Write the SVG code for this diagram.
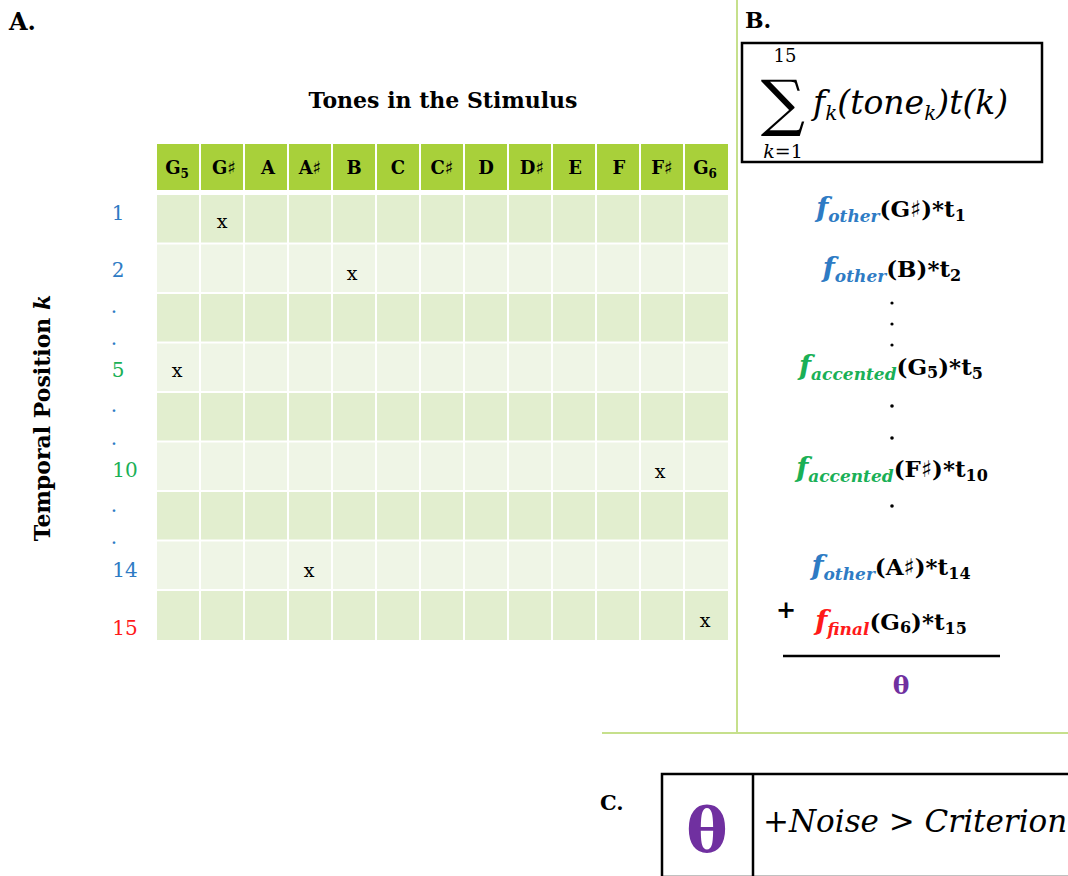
<svg xmlns="http://www.w3.org/2000/svg" width="1068" height="876" viewBox="0 0 1068 876">
<style>
.lbl{font-family:"DejaVu Serif","Liberation Serif",serif;font-weight:bold;fill:#000}
.hd{font-family:"DejaVu Serif","Liberation Serif",serif;font-weight:bold;font-size:18px;fill:#000;text-anchor:middle}
.num{font-family:"DejaVu Serif","Liberation Serif",serif;font-size:20px;text-anchor:middle}
.x{font-family:"DejaVu Serif","Liberation Serif",serif;font-size:19px;text-anchor:middle;fill:#000}
.math{font-family:"DejaVu Serif","Liberation Serif",serif;fill:#000}
.fb{font-family:"DejaVu Serif","Liberation Serif",serif;font-weight:bold;fill:#000}
.fi{font-style:italic}
.blue{fill:#2e7bc4}
.green{fill:#1ab056}
.red{fill:#ff1a1a}
.purple{fill:#7030a0}
.hdr{fill:#a8d03a}
.rd{fill:#e2eecf}
.rl{fill:#eff5e6}
.sep{stroke:#c6e08c;stroke-width:2;fill:none}
.box{fill:none;stroke:#000;stroke-width:2.5}
</style>

<!-- separators -->
<g id="separators">
<line class="sep" x1="737" y1="0" x2="737" y2="733"/>
<line class="sep" x1="602" y1="733" x2="1068" y2="733"/>
</g>

<!-- Panel A -->
<g id="panelA">
<text class="lbl" x="9" y="30" font-size="24">A.</text>
<text class="lbl" x="443" y="108" font-size="22" text-anchor="middle">Tones in the Stimulus</text>
<text class="lbl" font-size="22" text-anchor="middle" transform="translate(50,418) rotate(-90)">Temporal Position <tspan font-style="italic">k</tspan></text>

<g id="header">
<rect class="hdr" x="157" y="144" width="42" height="46"/>
<rect class="hdr" x="201" y="144" width="42" height="46"/>
<rect class="hdr" x="245" y="144" width="42" height="46"/>
<rect class="hdr" x="289" y="144" width="42" height="46"/>
<rect class="hdr" x="333" y="144" width="42" height="46"/>
<rect class="hdr" x="377" y="144" width="42" height="46"/>
<rect class="hdr" x="421" y="144" width="42" height="46"/>
<rect class="hdr" x="465" y="144" width="42" height="46"/>
<rect class="hdr" x="509" y="144" width="42" height="46"/>
<rect class="hdr" x="553" y="144" width="42" height="46"/>
<rect class="hdr" x="597" y="144" width="42" height="46"/>
<rect class="hdr" x="641" y="144" width="42" height="46"/>
<rect class="hdr" x="685" y="144" width="43" height="46"/>
<text class="hd" x="177" y="174">G<tspan font-size="12" dy="4">5</tspan></text>
<text class="hd" x="224" y="174">G♯</text>
<text class="hd" x="268" y="174">A</text>
<text class="hd" x="310" y="174">A♯</text>
<text class="hd" x="354" y="174">B</text>
<text class="hd" x="398" y="174">C</text>
<text class="hd" x="442" y="174">C♯</text>
<text class="hd" x="486" y="174">D</text>
<text class="hd" x="532" y="174">D♯</text>
<text class="hd" x="575" y="174">E</text>
<text class="hd" x="619" y="174">F</text>
<text class="hd" x="662" y="174">F♯</text>
<text class="hd" x="705" y="174">G<tspan font-size="12" dy="4">6</tspan></text>
</g>

<g id="rows">
<g class="rd">
<rect x="157" y="195" width="42" height="47.5"/><rect x="201" y="195" width="42" height="47.5"/><rect x="245" y="195" width="42" height="47.5"/><rect x="289" y="195" width="42" height="47.5"/><rect x="333" y="195" width="42" height="47.5"/><rect x="377" y="195" width="42" height="47.5"/><rect x="421" y="195" width="42" height="47.5"/><rect x="465" y="195" width="42" height="47.5"/><rect x="509" y="195" width="42" height="47.5"/><rect x="553" y="195" width="42" height="47.5"/><rect x="597" y="195" width="42" height="47.5"/><rect x="641" y="195" width="42" height="47.5"/><rect x="685" y="195" width="43" height="47.5"/>
</g>
<g class="rl">
<rect x="157" y="244.5" width="42" height="47.5"/><rect x="201" y="244.5" width="42" height="47.5"/><rect x="245" y="244.5" width="42" height="47.5"/><rect x="289" y="244.5" width="42" height="47.5"/><rect x="333" y="244.5" width="42" height="47.5"/><rect x="377" y="244.5" width="42" height="47.5"/><rect x="421" y="244.5" width="42" height="47.5"/><rect x="465" y="244.5" width="42" height="47.5"/><rect x="509" y="244.5" width="42" height="47.5"/><rect x="553" y="244.5" width="42" height="47.5"/><rect x="597" y="244.5" width="42" height="47.5"/><rect x="641" y="244.5" width="42" height="47.5"/><rect x="685" y="244.5" width="43" height="47.5"/>
</g>
<g class="rd">
<rect x="157" y="294" width="42" height="47.5"/><rect x="201" y="294" width="42" height="47.5"/><rect x="245" y="294" width="42" height="47.5"/><rect x="289" y="294" width="42" height="47.5"/><rect x="333" y="294" width="42" height="47.5"/><rect x="377" y="294" width="42" height="47.5"/><rect x="421" y="294" width="42" height="47.5"/><rect x="465" y="294" width="42" height="47.5"/><rect x="509" y="294" width="42" height="47.5"/><rect x="553" y="294" width="42" height="47.5"/><rect x="597" y="294" width="42" height="47.5"/><rect x="641" y="294" width="42" height="47.5"/><rect x="685" y="294" width="43" height="47.5"/>
</g>
<g class="rl">
<rect x="157" y="343.5" width="42" height="47.5"/><rect x="201" y="343.5" width="42" height="47.5"/><rect x="245" y="343.5" width="42" height="47.5"/><rect x="289" y="343.5" width="42" height="47.5"/><rect x="333" y="343.5" width="42" height="47.5"/><rect x="377" y="343.5" width="42" height="47.5"/><rect x="421" y="343.5" width="42" height="47.5"/><rect x="465" y="343.5" width="42" height="47.5"/><rect x="509" y="343.5" width="42" height="47.5"/><rect x="553" y="343.5" width="42" height="47.5"/><rect x="597" y="343.5" width="42" height="47.5"/><rect x="641" y="343.5" width="42" height="47.5"/><rect x="685" y="343.5" width="43" height="47.5"/>
</g>
<g class="rd">
<rect x="157" y="393" width="42" height="47.5"/><rect x="201" y="393" width="42" height="47.5"/><rect x="245" y="393" width="42" height="47.5"/><rect x="289" y="393" width="42" height="47.5"/><rect x="333" y="393" width="42" height="47.5"/><rect x="377" y="393" width="42" height="47.5"/><rect x="421" y="393" width="42" height="47.5"/><rect x="465" y="393" width="42" height="47.5"/><rect x="509" y="393" width="42" height="47.5"/><rect x="553" y="393" width="42" height="47.5"/><rect x="597" y="393" width="42" height="47.5"/><rect x="641" y="393" width="42" height="47.5"/><rect x="685" y="393" width="43" height="47.5"/>
</g>
<g class="rl">
<rect x="157" y="442.5" width="42" height="47.5"/><rect x="201" y="442.5" width="42" height="47.5"/><rect x="245" y="442.5" width="42" height="47.5"/><rect x="289" y="442.5" width="42" height="47.5"/><rect x="333" y="442.5" width="42" height="47.5"/><rect x="377" y="442.5" width="42" height="47.5"/><rect x="421" y="442.5" width="42" height="47.5"/><rect x="465" y="442.5" width="42" height="47.5"/><rect x="509" y="442.5" width="42" height="47.5"/><rect x="553" y="442.5" width="42" height="47.5"/><rect x="597" y="442.5" width="42" height="47.5"/><rect x="641" y="442.5" width="42" height="47.5"/><rect x="685" y="442.5" width="43" height="47.5"/>
</g>
<g class="rd">
<rect x="157" y="492" width="42" height="47.5"/><rect x="201" y="492" width="42" height="47.5"/><rect x="245" y="492" width="42" height="47.5"/><rect x="289" y="492" width="42" height="47.5"/><rect x="333" y="492" width="42" height="47.5"/><rect x="377" y="492" width="42" height="47.5"/><rect x="421" y="492" width="42" height="47.5"/><rect x="465" y="492" width="42" height="47.5"/><rect x="509" y="492" width="42" height="47.5"/><rect x="553" y="492" width="42" height="47.5"/><rect x="597" y="492" width="42" height="47.5"/><rect x="641" y="492" width="42" height="47.5"/><rect x="685" y="492" width="43" height="47.5"/>
</g>
<g class="rl">
<rect x="157" y="541.5" width="42" height="47.5"/><rect x="201" y="541.5" width="42" height="47.5"/><rect x="245" y="541.5" width="42" height="47.5"/><rect x="289" y="541.5" width="42" height="47.5"/><rect x="333" y="541.5" width="42" height="47.5"/><rect x="377" y="541.5" width="42" height="47.5"/><rect x="421" y="541.5" width="42" height="47.5"/><rect x="465" y="541.5" width="42" height="47.5"/><rect x="509" y="541.5" width="42" height="47.5"/><rect x="553" y="541.5" width="42" height="47.5"/><rect x="597" y="541.5" width="42" height="47.5"/><rect x="641" y="541.5" width="42" height="47.5"/><rect x="685" y="541.5" width="43" height="47.5"/>
</g>
<g class="rd">
<rect x="157" y="591" width="42" height="49"/><rect x="201" y="591" width="42" height="49"/><rect x="245" y="591" width="42" height="49"/><rect x="289" y="591" width="42" height="49"/><rect x="333" y="591" width="42" height="49"/><rect x="377" y="591" width="42" height="49"/><rect x="421" y="591" width="42" height="49"/><rect x="465" y="591" width="42" height="49"/><rect x="509" y="591" width="42" height="49"/><rect x="553" y="591" width="42" height="49"/><rect x="597" y="591" width="42" height="49"/><rect x="641" y="591" width="42" height="49"/><rect x="685" y="591" width="43" height="49"/>
</g>
</g>

<g id="marks">
<text class="x" x="222" y="228">x</text>
<text class="x" x="352" y="280">x</text>
<text class="x" x="177" y="377">x</text>
<text class="x" x="660" y="478">x</text>
<text class="x" x="309" y="577">x</text>
<text class="x" x="705" y="627">x</text>
</g>

<g id="rowlabels">
<text class="num blue" x="118" y="220">1</text>
<text class="num blue" x="118" y="277">2</text>
<text class="num blue" x="114" y="313">.</text>
<text class="num blue" x="114" y="345">.</text>
<text class="num green" x="118" y="377">5</text>
<text class="num blue" x="114" y="412">.</text>
<text class="num blue" x="114" y="445">.</text>
<text class="num green" x="125" y="477">10</text>
<text class="num blue" x="114" y="512">.</text>
<text class="num blue" x="114" y="544">.</text>
<text class="num blue" x="125" y="577">14</text>
<text class="num red" x="125" y="635">15</text>
</g>
</g>

<!-- Panel B -->
<g id="panelB">
<text class="lbl" x="745" y="28" font-size="22">B.</text>
<g id="sumbox">
<rect class="box" x="742" y="43" width="300" height="119"/>
<text class="math" x="785" y="62" font-size="18" text-anchor="middle">15</text>
<text class="math" x="783" y="124" font-size="62" text-anchor="middle">∑</text>
<text class="math" x="783" y="158" font-size="19" text-anchor="middle"><tspan class="fi">k</tspan>=1</text>
<text class="math fi" x="813" y="114" font-size="33">f<tspan font-size="20" dy="6">k</tspan><tspan dy="-6">(tone</tspan><tspan font-size="20" dy="6">k</tspan><tspan dy="-6">)t(k)</tspan></text>
</g>

<g id="terms">
<text class="fb" x="891" y="217" font-size="23" text-anchor="middle"><tspan class="blue fi" font-size="28">f</tspan><tspan class="blue fi" font-size="17" dy="5">other</tspan><tspan dy="-5">(G♯)*t</tspan><tspan font-size="16" dy="4">1</tspan></text>
<text class="fb" x="892" y="277" font-size="23" text-anchor="middle"><tspan class="blue fi" font-size="28">f</tspan><tspan class="blue fi" font-size="17" dy="5">other</tspan><tspan dy="-5">(B)*t</tspan><tspan font-size="16" dy="4">2</tspan></text>
<circle cx="892" cy="303" r="1.6"/>
<circle cx="892" cy="324" r="1.6"/>
<circle cx="892" cy="345" r="1.6"/>
<text class="fb" x="891" y="375" font-size="23" text-anchor="middle"><tspan class="green fi" font-size="28">f</tspan><tspan class="green fi" font-size="17" dy="5">accented</tspan><tspan dy="-5">(G</tspan><tspan font-size="16" dy="3">5</tspan><tspan dy="-3">)*t</tspan><tspan font-size="16" dy="4">5</tspan></text>
<circle cx="892" cy="406" r="1.8"/>
<circle cx="892" cy="438" r="1.8"/>
<text class="fb" x="892" y="477" font-size="23" text-anchor="middle"><tspan class="green fi" font-size="28">f</tspan><tspan class="green fi" font-size="17" dy="5">accented</tspan><tspan dy="-5">(F♯)*t</tspan><tspan font-size="16" dy="4">10</tspan></text>
<circle cx="892" cy="506" r="1.8"/>
<text class="fb" x="891" y="575" font-size="23" text-anchor="middle"><tspan class="blue fi" font-size="28">f</tspan><tspan class="blue fi" font-size="17" dy="5">other</tspan><tspan dy="-5">(A♯)*t</tspan><tspan font-size="16" dy="4">14</tspan></text>
<text class="fb" x="776" y="618" font-size="24">+</text>
<text class="fb" x="891" y="630" font-size="23" text-anchor="middle"><tspan class="red fi" font-size="28">f</tspan><tspan class="red fi" font-size="17" dy="5">final</tspan><tspan dy="-5">(G</tspan><tspan font-size="16" dy="3">6</tspan><tspan dy="-3">)*t</tspan><tspan font-size="16" dy="4">15</tspan></text>
<line x1="783" y1="656" x2="1000" y2="656" stroke="#000" stroke-width="2.5"/>
<text class="fb purple" x="901" y="694" font-size="25" text-anchor="middle">θ</text>
</g>
</g>

<!-- Panel C -->
<g id="panelC">
<text class="lbl" x="600" y="810" font-size="21">C.</text>
<g id="critbox">
<rect class="box" x="662" y="774" width="420" height="103"/>
<line x1="753" y1="774" x2="753" y2="876" stroke="#000" stroke-width="2.5"/>
<text class="fb purple" x="707" y="852" font-size="62" text-anchor="middle">θ</text>
<text class="math fi" x="763" y="832" font-size="31">+Noise &gt; Criterion</text>
</g>
</g>
</svg>
